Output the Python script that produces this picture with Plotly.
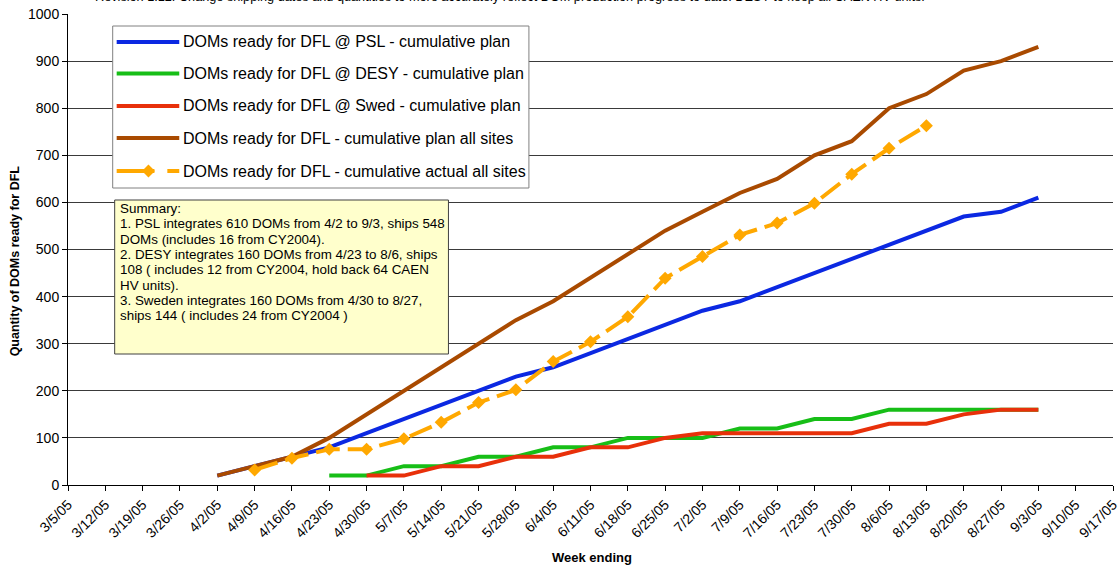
import plotly.graph_objects as go

# Week-ending dates shown on the category axis
weeks = ["3/5/05", "3/12/05", "3/19/05", "3/26/05", "4/2/05", "4/9/05", "4/16/05",
         "4/23/05", "4/30/05", "5/7/05", "5/14/05", "5/21/05", "5/28/05", "6/4/05",
         "6/11/05", "6/18/05", "6/25/05", "7/2/05", "7/9/05", "7/16/05", "7/23/05",
         "7/30/05", "8/6/05", "8/13/05", "8/20/05", "8/27/05", "9/3/05", "9/10/05",
         "9/17/05"]

# Cumulative plan, PSL (4/2 .. 9/3)
psl_weeks = weeks[4:27]
psl_plan = [20, 40, 60, 80, 110, 140, 170, 200, 230, 250, 280, 310, 340, 370,
            390, 420, 450, 480, 510, 540, 570, 580, 610]

# Cumulative plan, DESY (4/23 .. 9/3)
desy_weeks = weeks[7:27]
desy_plan = [20, 20, 40, 40, 60, 60, 80, 80, 100, 100, 100, 120, 120, 140, 140,
             160, 160, 160, 160, 160]

# Cumulative plan, Sweden (4/30 .. 9/3)
swed_weeks = weeks[8:27]
swed_plan = [20, 20, 40, 40, 60, 60, 80, 80, 100, 110, 110, 110, 110, 110, 130,
             130, 150, 160, 160]

# Cumulative plan, all sites (4/2 .. 9/3)
all_weeks = weeks[4:27]
all_plan = [20, 40, 60, 100, 150, 200, 250, 300, 350, 390, 440, 490, 540, 580,
            620, 650, 700, 730, 800, 830, 880, 900, 930]

# Cumulative actual, all sites (4/9 .. 8/13)
actual_weeks = weeks[5:24]
actual_all = [32, 57, 76, 76, 98, 133, 175, 202, 262, 304, 357, 439, 485, 531,
              556, 598, 660, 715, 763]

series_names = [
    "DOMs ready for DFL @ PSL - cumulative plan",
    "DOMs ready for DFL @ DESY - cumulative plan",
    "DOMs ready for DFL @ Swed - cumulative plan",
    "DOMs ready for DFL - cumulative plan all sites",
    "DOMs ready for DFL - cumulative actual all sites",
]

summary_lines = [
    "Summary:",
    "1. PSL integrates 610 DOMs from 4/2 to 9/3, ships 548",
    "DOMs (includes 16 from CY2004).",
    "2. DESY integrates 160 DOMs from 4/23 to 8/6, ships",
    "108 ( includes 12 from CY2004, hold back 64 CAEN",
    "HV units).",
    "3. Sweden integrates 160 DOMs from 4/30 to 8/27,",
    "ships 144 ( includes 24 from CY2004 )",
]

header = ("Revision 1.12: Change shipping dates and quantities to more accurately "
          "reflect DOM production progress to date. DESY to keep all CAEN HV units.")

BLUE, GREEN, RED, BROWN, ORANGE = "#0B28E2", "#17BE17", "#E8300A", "#A94A00", "#FFA800"
FONT = "Arial, Liberation Sans, sans-serif"
W, H = 1120, 567
PL, PR, PT, PB = 68, 1120, 14, 485


def px(x):
    return (x - PL) / (PR - PL)


def py(y):
    return (PB - y) / (PB - PT)


fig = go.Figure()
LW = 4
fig.add_trace(go.Scatter(x=psl_weeks, y=psl_plan, mode="lines",
                         line=dict(color=BLUE, width=LW), name=series_names[0]))
fig.add_trace(go.Scatter(x=desy_weeks, y=desy_plan, mode="lines",
                         line=dict(color=GREEN, width=LW), name=series_names[1]))
fig.add_trace(go.Scatter(x=swed_weeks, y=swed_plan, mode="lines",
                         line=dict(color=RED, width=LW), name=series_names[2]))
fig.add_trace(go.Scatter(x=all_weeks, y=all_plan, mode="lines",
                         line=dict(color=BROWN, width=LW), name=series_names[3]))
fig.add_trace(go.Scatter(x=actual_weeks, y=actual_all, mode="lines+markers",
                         line=dict(color=ORANGE, width=LW, dash="24px,8px"),
                         marker=dict(symbol="diamond", size=10, color=ORANGE),
                         name=series_names[4]))

shapes = []
annotations = []

# Legend box drawn by hand
shapes.append(dict(type="rect", xref="paper", yref="paper",
                   x0=px(113), x1=px(532), y0=py(188), y1=py(26),
                   fillcolor="white", line=dict(color="#808080", width=1), layer="above"))
legend_y = [42, 73.5, 106, 138, 171]
colors = [BLUE, GREEN, RED, BROWN, ORANGE]
for i, (yy, c) in enumerate(zip(legend_y, colors)):
    if i < 4:
        shapes.append(dict(type="line", xref="paper", yref="paper",
                           x0=px(117), x1=px(180), y0=py(yy), y1=py(yy),
                           line=dict(color=c, width=LW), layer="above"))
    else:
        shapes.append(dict(type="line", xref="paper", yref="paper",
                           x0=px(117), x1=px(155), y0=py(yy), y1=py(yy),
                           line=dict(color=c, width=LW), layer="above"))
        shapes.append(dict(type="line", xref="paper", yref="paper",
                           x0=px(168), x1=px(180), y0=py(yy), y1=py(yy),
                           line=dict(color=c, width=LW), layer="above"))
        cx, r = 149, 6.5
        path = "M {a},{b} L {c},{d} L {a},{e} L {f},{d} Z".format(
            a=px(cx), b=py(yy - r), c=px(cx + r), d=py(yy), e=py(yy + r), f=px(cx - r))
        shapes.append(dict(type="path", xref="paper", yref="paper", path=path,
                           fillcolor=c, line=dict(color=c, width=0), layer="above"))
    annotations.append(dict(xref="paper", yref="paper", x=px(182), y=py(yy),
                            xanchor="left", yanchor="middle", showarrow=False,
                            text=series_names[i], font=dict(family=FONT, size=16, color="black")))

# Summary note box
shapes.append(dict(type="rect", xref="paper", yref="paper",
                   x0=px(115), x1=px(451), y0=py(354), y1=py(200),
                   fillcolor="#FFFFCC", line=dict(color="#404040", width=1), layer="above"))
for k, line in enumerate(summary_lines):
    annotations.append(dict(xref="paper", yref="paper", x=px(118), y=py(208.5 + 15.3 * k),
                            xanchor="left", yanchor="middle", showarrow=False,
                            text=line, font=dict(family=FONT, size=13.4, color="black")))

# Header line at the very top
annotations.append(dict(xref="paper", yref="paper", x=px(93), y=py(6),
                        xanchor="left", yanchor="bottom", showarrow=False,
                        text=header, font=dict(family=FONT, size=12.7, color="black")))

# Axis titles
annotations.append(dict(xref="paper", yref="paper", x=px(596), y=py(557),
                        xanchor="center", yanchor="middle", showarrow=False,
                        text="<b>Week ending</b>", font=dict(family=FONT, size=13, color="black")))
annotations.append(dict(xref="paper", yref="paper", x=px(15), y=py(261), textangle=-90,
                        xanchor="center", yanchor="middle", showarrow=False,
                        text="<b>Quantity of DOMs ready for DFL</b>",
                        font=dict(family=FONT, size=12.5, color="black")))

fig.update_layout(
    width=W, height=H,
    margin=dict(l=PL, r=W - PR, t=PT, b=H - PB, pad=0),
    paper_bgcolor="white", plot_bgcolor="white",
    showlegend=False,
    shapes=shapes, annotations=annotations,
    font=dict(family=FONT, color="black"),
)
fig.update_xaxes(type="category", categoryorder="array", categoryarray=weeks,
                 range=[0, len(weeks) - 1], tickmode="array", tickvals=weeks, ticktext=weeks,
                 tickangle=-45, tickfont=dict(family=FONT, size=14, color="black"),
                 showline=True, linecolor="black", linewidth=1, mirror=False,
                 ticks="outside", ticklen=5, tickcolor="black", showgrid=False, zeroline=False)
fig.update_yaxes(range=[0, 1000], dtick=100, tickfont=dict(family=FONT, size=14, color="black"),
                 showline=True, linecolor="black", linewidth=1,
                 ticks="outside", ticklen=5, tickcolor="black",
                 showgrid=True, gridcolor="#3a3a3a", gridwidth=1, zeroline=False)

fig.write_html("out.html")
